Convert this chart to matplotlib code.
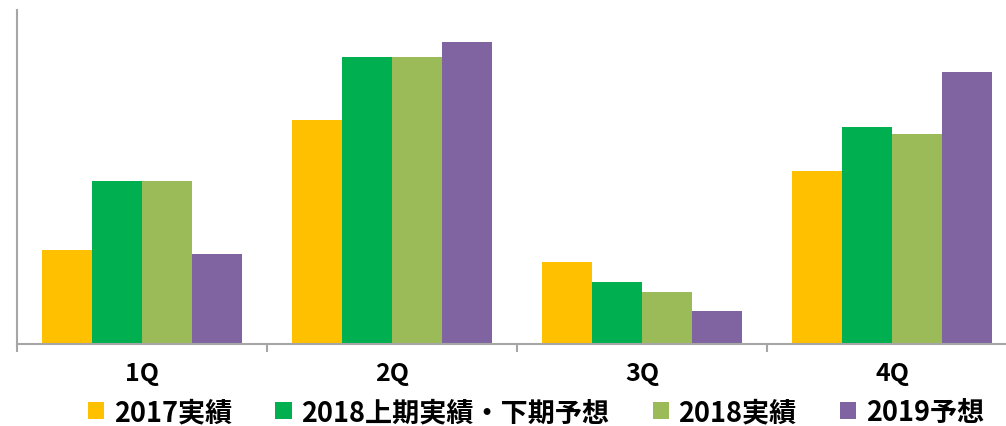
import matplotlib
matplotlib.use("Agg")
import matplotlib.pyplot as plt
from matplotlib.patches import Patch

plt.rcParams['font.family'] = ['Noto Sans CJK JP', 'DejaVu Sans']

# quarterly values (no y scale shown on the chart)
quarters = ['1Q', '2Q', '3Q', '4Q']
series_names = ['2017実績', '2018上期実績・下期予想', '2018実績', '2019予想']
v2017 = [94, 224, 82, 173]
v2018_mixed = [163, 287, 62, 217]
v2018 = [163, 287, 52, 210]
v2019 = [90, 302, 33, 272]
series_values = [v2017, v2018_mixed, v2018, v2019]
colors = ['#FFC000', '#00B050', '#9BBB59', '#8064A2']

fig = plt.figure(figsize=(10.06, 4.27), dpi=100)
ax = fig.add_axes([17 / 1006, 82 / 427, 1000 / 1006, 334 / 427])

width = 0.2
for k, (vals, col) in enumerate(zip(series_values, colors)):
    xs = [i + (k - 1.5) * width for i in range(len(quarters))]
    ax.bar(xs, vals, width, color=col, linewidth=0)

ax.set_xlim(-0.5, len(quarters) - 0.5)
ax.set_ylim(0, 334)

for side in ['top', 'right']:
    ax.spines[side].set_visible(False)
for side in ['left', 'bottom']:
    ax.spines[side].set_color('#A6A6A6')
    ax.spines[side].set_linewidth(1.5)

# tick marks between the groups, labels centred under them
ax.set_xticks([i - 0.5 for i in range(len(quarters) + 1)])
ax.set_xticklabels([])
ax.tick_params(axis='x', which='major', length=6, width=1.5, color='#A6A6A6')
ax.set_xticks(range(len(quarters)), minor=True)
ax.set_xticklabels(quarters, minor=True, fontweight='bold')
ax.tick_params(axis='x', which='minor', length=0, pad=12, labelsize=18)
ax.set_yticks([])

handles = [Patch(facecolor=c, edgecolor='none') for c in colors]
fig.legend(handles, series_names, ncol=4, loc='center',
           bbox_to_anchor=(536 / 1006, 14 / 427), frameon=False,
           prop={'size': 19.5, 'weight': 'bold'},
           handlelength=0.6, handleheight=0.6, handletextpad=0.35,
           columnspacing=1.6, borderpad=0, borderaxespad=0)

fig.savefig('out.png', dpi=100)
